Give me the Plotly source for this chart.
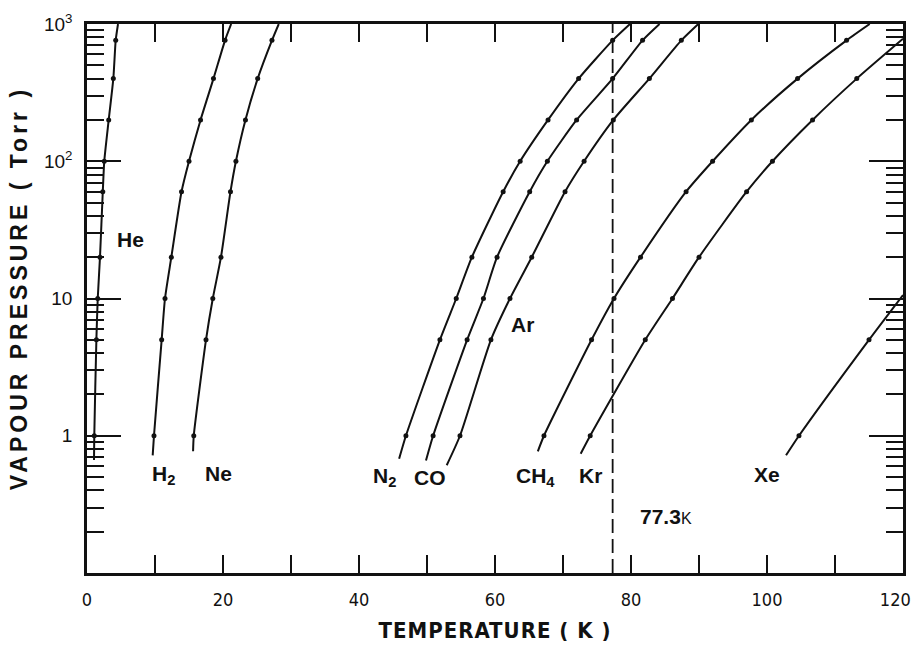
import math
import plotly.graph_objects as go

# ---------------- data ----------------
PRESSURES = [1, 5, 10, 20, 60, 100, 200, 400, 760]   # Torr, dotted points

he_T = [1.07, 1.38, 1.58, 1.91, 2.32, 2.54, 3.19, 3.87, 4.22]
he_end_T = [1.03, 4.56]
he_end_P = [0.665, 1000]

h2_T = [9.85, 10.98, 11.47, 12.4, 13.9, 15.0, 16.7, 18.6, 20.3]
h2_end_T = [9.66, 21.2]
h2_end_P = [0.72, 1000]

ne_T = [15.7, 17.5, 18.5, 19.7, 21.1, 21.9, 23.3, 25.1, 27.2]
ne_end_T = [15.6, 28.2]
ne_end_P = [0.77, 1000]

n2_T = [46.9, 51.9, 54.3, 56.6, 61.2, 63.7, 67.8, 72.3, 77.3]
n2_end_T = [45.9, 79.85]
n2_end_P = [0.68, 1000]

co_T = [50.9, 55.9, 58.3, 60.3, 65.1, 67.7, 72.0, 77.3, 81.7]
co_end_T = [49.85, 84.2]
co_end_P = [0.66, 1000]

ar_T = [54.85, 59.4, 62.2, 65.4, 70.3, 73.1, 77.4, 82.7, 87.4]
ar_end_T = [52.9, 89.9]
ar_end_P = [0.61, 1000]

ch4_T = [67.2, 74.2, 77.5, 81.4, 88.1, 92.0, 97.7, 104.5, 111.7]
ch4_end_T = [66.3, 115.1]
ch4_end_P = [0.77, 1000]

kr_T = [74.0, 82.1, 86.1, 90.0, 97.0, 100.8, 106.7, 113.2]
kr_end_T = [72.6, 120.0]
kr_end_P = [0.74, 780]

xe_T = [104.7, 115.0]
xe_end_T = [102.8, 120.0]
xe_end_P = [0.72, 10.6]

# label text, temperature, pressure of label centre
label_text = ["He", "H<sub>2</sub>", "Ne", "N<sub>2</sub>", "CO", "Ar",
              "CH<sub>4</sub>", "Kr", "Xe"]
label_T = [6.4, 11.2, 19.4, 43.8, 50.4, 64.0, 65.9, 74.0, 100.0]
label_P = [27, 0.52, 0.53, 0.50, 0.50, 6.5, 0.50, 0.51, 0.52]

LN2_T = 77.3
ln2_label_T = 85.1
ln2_label_P = 0.256

x_tickvals = [0, 20, 40, 60, 80, 100, 120]
x_ticktext = ["0", "20", "40", "60", "80", "100", "120"]
y_tickvals = [1, 10, 100, 1000]
y_ticktext = ["1", "10", "10<sup>2</sup>", "10<sup>3</sup>"]

# ---------------- figure ----------------
FONT = "Liberation Sans, Arial, Helvetica, sans-serif"
NARROW = "Liberation Sans Narrow, Arial Narrow, DejaVu Sans Condensed, Liberation Sans, sans-serif"
INK = "#111111"
NBSP = "\u00a0"

gases = [
    (he_T, he_end_T, he_end_P),
    (h2_T, h2_end_T, h2_end_P),
    (ne_T, ne_end_T, ne_end_P),
    (n2_T, n2_end_T, n2_end_P),
    (co_T, co_end_T, co_end_P),
    (ar_T, ar_end_T, ar_end_P),
    (ch4_T, ch4_end_T, ch4_end_P),
    (kr_T, kr_end_T, kr_end_P),
    (xe_T, xe_end_T, xe_end_P),
]

fig = go.Figure()
for T, endT, endP in gases:
    P = PRESSURES[:len(T)]
    line_T = [endT[0]] + T + [endT[1]]
    line_P = [endP[0]] + P + [endP[1]]
    fig.add_trace(go.Scatter(
        x=line_T, y=line_P, mode="lines",
        line=dict(color=INK, width=2, shape="spline", smoothing=0.6),
        showlegend=False, hoverinfo="skip"))
    fig.add_trace(go.Scatter(
        x=T, y=P, mode="markers",
        marker=dict(color=INK, size=5),
        showlegend=False))

for txt, t, p in zip(label_text, label_T, label_P):
    fig.add_annotation(x=t, y=math.log10(p), xref="x", yref="y",
                       text="<b>" + txt + "</b>", showarrow=False,
                       font=dict(family=FONT, size=21, color=INK))

fig.add_annotation(x=ln2_label_T, y=math.log10(ln2_label_P), xref="x", yref="y",
                   text="<b>77.3</b><span style='font-size:16px'>K</span>",
                   showarrow=False, font=dict(family=FONT, size=21, color=INK))

fig.add_shape(type="line", x0=LN2_T, x1=LN2_T, y0=0, y1=1,
              xref="x", yref="paper",
              line=dict(color=INK, width=1.8, dash="14px,6px"))

minor_y = [m * 10 ** e for e in range(-1, 3) for m in range(2, 10)]

# last x label nudged left so it stays inside the page
x_ticktext_shown = x_ticktext[:-1] + [x_ticktext[-1] + NBSP * 3]

fig.update_layout(
    width=914, height=645,
    margin=dict(l=87, r=11, t=24, b=72),
    paper_bgcolor="white", plot_bgcolor="white",
    font=dict(family=FONT, color=INK),
    xaxis=dict(
        range=[0, 120], showgrid=False, zeroline=False, automargin=False,
        showline=True, linewidth=2.5, linecolor=INK, mirror="ticks",
        ticks="inside", ticklen=18, tickwidth=2, tickcolor=INK,
        tickvals=x_tickvals, ticktext=x_ticktext_shown,
        tickfont=dict(family=NARROW, size=18, color=INK),
        ticklabelstandoff=9, ticklabeloverflow="allow",
        minor=dict(ticks="inside", ticklen=18, tickwidth=2, tickcolor=INK, dtick=10, showgrid=False),
        title=dict(text="<b><span style='letter-spacing:1px'>TEMPERATURE ( K )</span></b>",
                   font=dict(family=NARROW, size=22, color=INK), standoff=14),
    ),
    yaxis=dict(
        type="log", range=[-1, 3], showgrid=False, zeroline=False, automargin=False,
        showline=True, linewidth=2.5, linecolor=INK, mirror="ticks",
        ticks="inside", ticklen=34, tickwidth=2, tickcolor=INK,
        tickvals=y_tickvals, ticktext=y_ticktext,
        tickfont=dict(family=FONT, size=19, color=INK),
        ticklabelstandoff=8,
        minor=dict(ticks="inside", ticklen=17, tickwidth=1.5, tickcolor=INK,
                   tickvals=minor_y, showgrid=False),
        title=dict(text="<b><span style='letter-spacing:4px'>" + NBSP * 2 +
                        "VAPOUR PRESSURE ( Torr )</span></b>",
                   font=dict(family=FONT, size=23, color=INK), standoff=10),
    ),
)

fig.write_html("out.html")
